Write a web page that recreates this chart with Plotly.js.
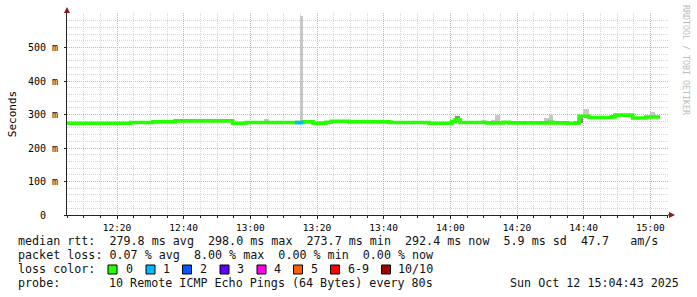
<!DOCTYPE html>
<html>
<head>
<meta charset="utf-8">
<script src="https://cdn.plot.ly/plotly-3.0.1.min.js"></script>
<style>html,body{margin:0;padding:0;background:#fff;}#chart{width:697px;height:297px;}</style>
</head>
<body>
<div id="chart"></div>
<script>
// ---- data (times on 2025-10-12, values in ms) ----
const DAY = '2025-10-12T';
const medianTimes = ['12:04:43','12:24:07','12:30:43','12:37:25','12:54:43','12:58:43','13:15:54','13:18:48','13:22:43','13:24:13','13:29:37','13:41:37','13:53:37','13:54:50','13:57:31','14:00:25','14:01:25','14:02:55','14:10:55','14:15:49','14:17:37','14:29:37','14:30:49','14:35:01','14:36:13','14:37:25','14:38:37','14:41:37','14:48:25','14:49:25','14:54:43','14:58:43','15:02:55'];
const medianValues = [273.7,276,278,281,274,276,278,274,277,280,278,276,274,273.7,274,279,284,276,275,277,275,277,275,274,273.7,275,295,291,293,298,289.6,292.4,292.4];
// segment with 1/10 packet loss
const loss1Times = ['13:13:25','13:15:54'];
const loss1Values = [276,276];
// smoke (spread of pings): start, end, low, high
const smokeStart = ['12:42:49','12:50:55','13:04:05','13:14:55','13:15:54','13:20:01','13:41:17','14:09:31','14:12:13','14:13:25','14:28:07','14:29:37','14:39:49','14:59:55'];
const smokeEnd   = ['12:44:55','12:53:18','13:05:35','13:15:54','13:18:31','13:22:26','13:42:48','14:10:43','14:13:25','14:14:55','14:29:37','14:30:49','14:41:37','15:01:25'];
const smokeLow   = [279,279,275,276,276,275,275,275,275,275,275,275,293,290];
const smokeHigh  = [286,286,286,595,283,280,283,283,283,300,289,300,316,306];
// darker smoke
const darkStart = ['14:01:25','14:38:37'];
const darkEnd   = ['14:02:55','14:39:49'];
const darkLow   = [282,275];
const darkHigh  = [295,293];
// axis ticks
const yTickVals = [0,100,200,300,400,500];
const yTickText = ['0\u00a0\u00a0','100 m','200 m','300 m','400 m','500 m'];
// legend
const lossLabels = ['0','1','2','3','4','5','6-9','10/10'];
const lossColors = ['#26ff00','#00b8ff','#0059ff','#5e00ff','#ff00e6','#ff5e00','#ff0000','#a10000'];
const statLine1 = 'median rtt:  279.8 ms avg  298.0 ms max  273.7 ms min  292.4 ms now  5.9 ms sd  47.7   am/s';
const statLine2 = 'packet loss: 0.07 % avg  8.00 % max  0.00 % min  0.00 % now';
const probeLabel = 'probe:';
const probeText = '10 Remote ICMP Echo Pings (64 Bytes) every 80s';
const dateText = 'Sun Oct 12 15:04:43 2025';

// ---- helpers ----
const t = s => Date.parse(DAY + s + 'Z');
const nb = s => s.replace(/ /g, '\u00a0');
const L = 67, R = 668, T = 13, B = 215, W = 697, H = 297;
const px = x => (x - L) / (R - L);
const py = y => (B - y) / (B - T);
const MONO = 'DejaVu Sans Mono, monospace';

const smokeTrace = (st, en, lo, hi, color) => ({
  type: 'bar',
  x: st.map((s, i) => (t(s) + t(en[i])) / 2),
  width: st.map((s, i) => t(en[i]) - t(s)),
  base: lo,
  y: hi.map((h, i) => h - lo[i]),
  marker: {color: color, line: {width: 0}},
  hoverinfo: 'skip', showlegend: false
});

const traces = [
  smokeTrace(smokeStart, smokeEnd, smokeLow, smokeHigh, '#c6c6c6'),
  smokeTrace(darkStart, darkEnd, darkLow, darkHigh, '#8c8c8c'),
  {type: 'scatter', mode: 'lines', x: medianTimes.map(t), y: medianValues,
   line: {color: lossColors[0], width: 3.6, shape: 'hv'}, hoverinfo: 'skip', showlegend: false},
  {type: 'scatter', mode: 'lines', x: loss1Times.map(t), y: loss1Values,
   line: {color: lossColors[1], width: 3.6, shape: 'hv'}, hoverinfo: 'skip', showlegend: false}
];

const annotations = [];
const textAnn = (x, y, text, opts) => Object.assign({
  xref: 'paper', yref: 'paper', x: px(x), y: py(y), text: nb(text), showarrow: false,
  xanchor: 'left', yanchor: 'middle', font: {family: MONO, size: 11.7, color: '#111'}
}, opts || {});
annotations.push(textAnn(16, 241, statLine1));
annotations.push(textAnn(16, 255, statLine2));
annotations.push(textAnn(16, 269, 'loss color:'));
annotations.push(textAnn(16, 283, probeLabel));
annotations.push(textAnn(107, 283, probeText));
annotations.push(textAnn(681, 283, dateText, {xanchor: 'right'}));
annotations.push({xref: 'paper', yref: 'paper', x: px(686), y: py(60), xanchor: 'center', yanchor: 'middle',
  text: 'RRDTOOL / TOBI OETIKER', textangle: 90, showarrow: false,
  font: {family: MONO, size: 8.3, color: '#bcbcbc'}});

const boxX = [108, 146, 182.5, 220, 257, 293.5, 330.5, 381.5];
const labX = [123.5, 161, 198, 235, 272, 308.5, 346, 395.5];
const shapes = [];
lossLabels.forEach((lab, i) => {
  annotations.push(textAnn(labX[i], 269, lab));
  shapes.push({type: 'rect', xref: 'paper', yref: 'paper', xsizemode: 'pixel', ysizemode: 'pixel',
    xanchor: px(boxX[i]), yanchor: py(269.5), x0: 0, x1: 9, y0: -4.5, y1: 4.5,
    fillcolor: lossColors[i], line: {color: '#000', width: 1}});
});
// axis arrows
shapes.push({type: 'line', xref: 'paper', yref: 'paper', x0: 1, x1: px(671), y0: 0, y1: 0,
  line: {color: '#222', width: 1}});
shapes.push({type: 'path', xref: 'paper', yref: 'paper', xsizemode: 'pixel', ysizemode: 'pixel',
  xanchor: px(669), yanchor: 0, path: 'M0,-3 L6,0 L0,3 Z', fillcolor: '#8b1a1a', line: {width: 0}});
shapes.push({type: 'path', xref: 'paper', yref: 'paper', xsizemode: 'pixel', ysizemode: 'pixel',
  xanchor: 0, yanchor: 1, path: 'M-3,0 L3,0 L0,6 Z', fillcolor: '#8b1a1a', line: {width: 0}});

const layout = {
  width: W, height: H,
  margin: {l: L, r: W - R, t: T, b: H - B},
  paper_bgcolor: '#fff', plot_bgcolor: '#fff',
  showlegend: false, barmode: 'overlay', bargap: 0,
  xaxis: {
    type: 'date', range: [t('12:05:00'), t('15:05:18')],
    tick0: t('12:00:00'), dtick: 20 * 60000, tickformat: '%H:%M',
    showgrid: true, gridcolor: '#e8a8a8', griddash: '1px,1px', gridwidth: 1,
    showline: true, linecolor: '#222', linewidth: 1, zeroline: false,
    ticks: 'outside', ticklen: 3, tickcolor: '#222', ticklabelstandoff: 1,
    tickfont: {family: MONO, size: 9.5, color: '#000'},
    minor: {dtick: 5 * 60000, showgrid: true, gridcolor: '#d6d6d6', griddash: '1px,1px',
            ticks: 'outside', ticklen: 2, tickcolor: '#222'},
    fixedrange: true
  },
  yaxis: {
    range: [0, 603], tickvals: yTickVals, ticktext: yTickText,
    showgrid: true, gridcolor: '#e8a8a8', griddash: '1px,1px', gridwidth: 1,
    showline: true, linecolor: '#222', linewidth: 1, zeroline: false,
    ticks: 'outside', ticklen: 2, tickcolor: '#222', ticklabelstandoff: 4,
    tickfont: {family: MONO, size: 10, color: '#000'},
    minor: {dtick: 20, showgrid: true, gridcolor: '#d6d6d6', griddash: '1px,1px'},
    title: {text: 'Seconds', font: {family: MONO, size: 11, color: '#000'}, standoff: 9},
    fixedrange: true
  },
  annotations: annotations,
  shapes: shapes
};

Plotly.newPlot('chart', traces, layout, {staticPlot: true, displayModeBar: false});
</script>
</body>
</html>
